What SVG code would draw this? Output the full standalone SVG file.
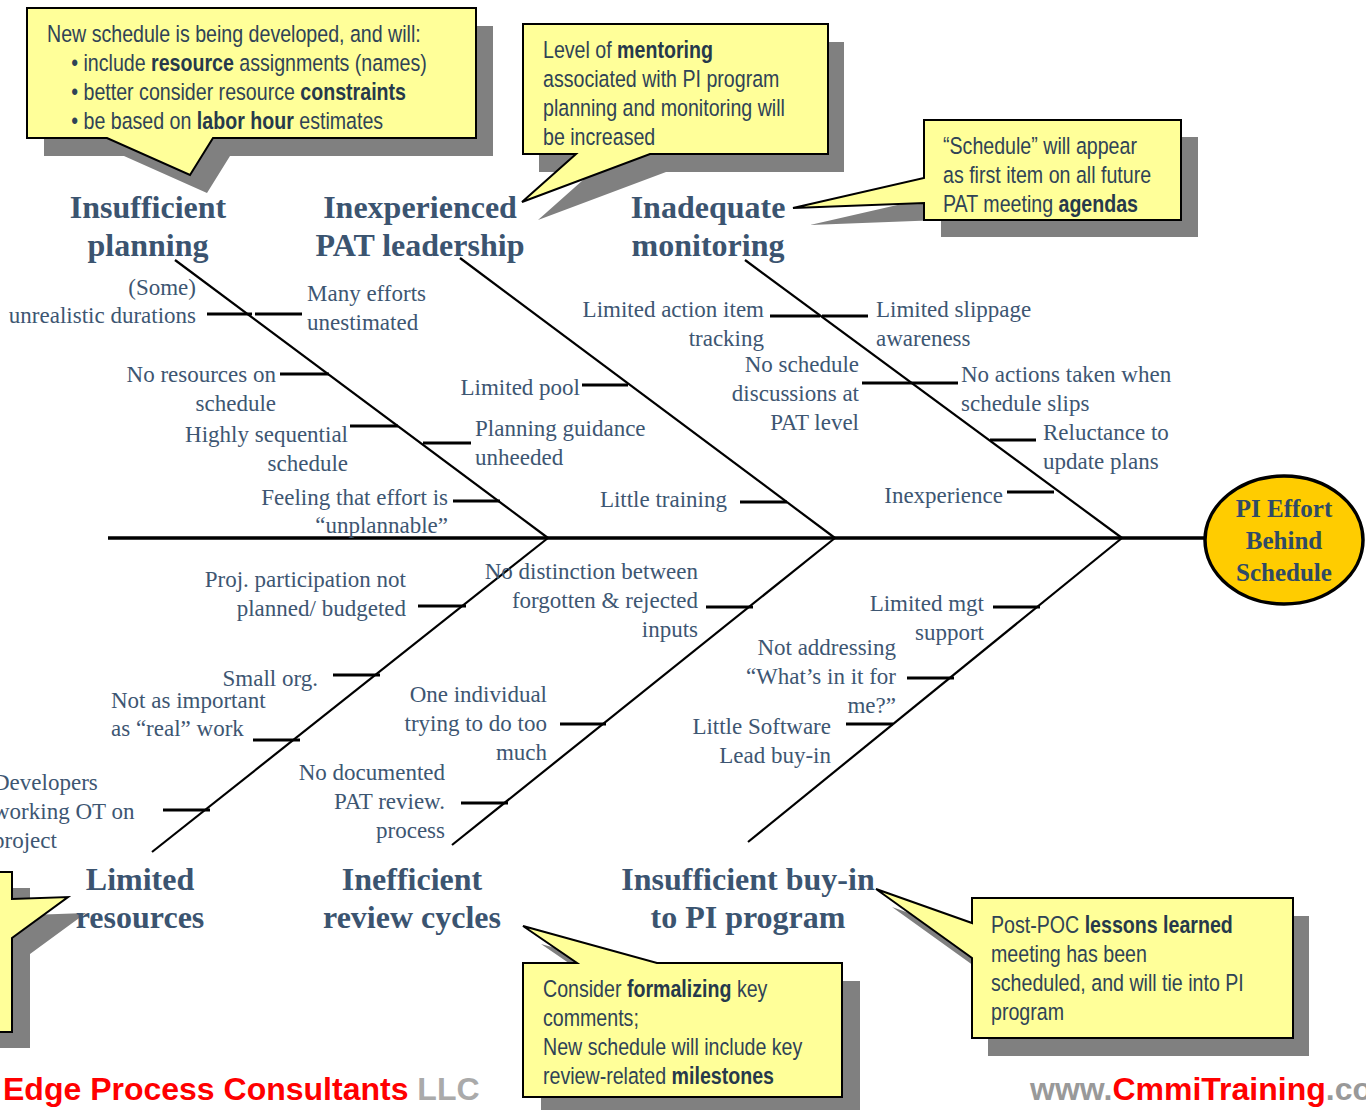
<svg xmlns="http://www.w3.org/2000/svg" width="1366" height="1110" viewBox="0 0 1366 1110">
<style>
.lbl{font-family:"Liberation Serif",serif;font-size:23px;fill:#3D5672}
.r{text-anchor:end}
.cat{font-family:"Liberation Serif",serif;font-weight:bold;font-size:32px;fill:#3B5470;text-anchor:middle}
.hd{font-family:"Liberation Serif",serif;font-weight:bold;font-size:25px;fill:#2F4A66;text-anchor:middle}
.co{font-family:"Liberation Sans",sans-serif;font-size:23.5px;fill:#2F4356}
.b{font-weight:bold;fill:#26394B}
.bubble{fill:#FFFF99;stroke:#000;stroke-width:2;stroke-linejoin:miter}
.shadow{fill:#808080}
.bone{stroke:#000;stroke-width:2.2;fill:none}
.tick{stroke:#000;stroke-width:3;fill:none}
.foot{font-family:"Liberation Sans",Arial,sans-serif;font-weight:bold;font-size:32px}
</style>
<rect width="1366" height="1110" fill="#fff"/>

<g id="callout-planning">
<path class="shadow" transform="translate(17,18)" d="M27,8 H476 V138 H213 L190,175 L107,138 H27 Z"/>
<path class="bubble" d="M27,8 H476 V138 H213 L190,175 L107,138 H27 Z"/>
<g transform="translate(47,0) scale(0.835,1)">
<text class="co" x="0" y="42">New schedule is being developed, and will:</text>
<text class="co" x="29" y="71">• include <tspan class="b">resource</tspan> assignments (names)</text>
<text class="co" x="29" y="100">• better consider resource <tspan class="b">constraints</tspan></text>
<text class="co" x="29" y="129">• be based on <tspan class="b">labor hour</tspan> estimates</text>
</g>
</g>

<g id="callout-leadership">
<path class="shadow" transform="translate(16,18)" d="M523,24 H828 V154 H650 L522,202 L576,154 H523 Z"/>
<path class="bubble" d="M523,24 H828 V154 H650 L522,202 L576,154 H523 Z"/>
<g transform="translate(543,0) scale(0.835,1)">
<text class="co" x="0" y="58">Level of <tspan class="b">mentoring</tspan></text>
<text class="co" x="0" y="87">associated with PI program</text>
<text class="co" x="0" y="116">planning and monitoring will</text>
<text class="co" x="0" y="145">be increased</text>
</g>
</g>

<g id="callout-monitoring">
<path class="shadow" transform="translate(17,17)" d="M924,120 H1181 V220 H924 V203 L793,208 L924,178 Z"/>
<path class="bubble" d="M924,120 H1181 V220 H924 V203 L793,208 L924,178 Z"/>
<g transform="translate(943,0) scale(0.835,1)">
<text class="co" x="0" y="154">“Schedule” will appear</text>
<text class="co" x="0" y="183">as first item on all future</text>
<text class="co" x="0" y="212">PAT meeting <tspan class="b">agendas</tspan></text>
</g>
</g>

<g id="callout-resources">
<path class="shadow" transform="translate(18,16)" d="M-300,872 H12 V899 L68,897 L12,938 V1032 H-300 Z"/>
<path class="bubble" d="M-300,872 H12 V899 L68,897 L12,938 V1032 H-300 Z"/>
</g>

<g id="callout-review">
<path class="shadow" transform="translate(18,18)" d="M523,963 H577 L523,926 L657,963 H842 V1097 H523 Z"/>
<path class="bubble" d="M523,963 H577 L523,926 L657,963 H842 V1097 H523 Z"/>
<g transform="translate(543,0) scale(0.835,1)">
<text class="co" x="0" y="997">Consider <tspan class="b">formalizing</tspan> key</text>
<text class="co" x="0" y="1026">comments;</text>
<text class="co" x="0" y="1055">New schedule will include key</text>
<text class="co" x="0" y="1084">review-related <tspan class="b">milestones</tspan></text>
</g>
</g>

<g id="callout-buyin">
<path class="shadow" transform="translate(16,18)" d="M972,898 H1293 V1038 H972 V958 L876,889 L972,923 Z"/>
<path class="bubble" d="M972,898 H1293 V1038 H972 V958 L876,889 L972,923 Z"/>
<g transform="translate(991,0) scale(0.835,1)">
<text class="co" x="0" y="933">Post-POC <tspan class="b">lessons learned</tspan></text>
<text class="co" x="0" y="962">meeting has been</text>
<text class="co" x="0" y="991">scheduled, and will tie into PI</text>
<text class="co" x="0" y="1020">program</text>
</g>
</g>

<g id="connectors">
<line x1="108" y1="538" x2="1206" y2="538" stroke="#000" stroke-width="3.5"/>
<line class="bone" x1="175" y1="260" x2="548" y2="538"/>
<line class="bone" x1="460" y1="258" x2="835" y2="538"/>
<line class="bone" x1="745" y1="260" x2="1122" y2="538"/>
<line class="bone" x1="548" y1="538" x2="152" y2="852"/>
<line class="bone" x1="835" y1="538" x2="452" y2="845"/>
<line class="bone" x1="1122" y1="538" x2="748" y2="842"/>
<path class="tick" d="M207,314 H252 M255,314 H302 M280,374 H329 M350,426 H398 M423,443 H471 M453,501 H500"/>
<path class="tick" d="M582,385 H628 M740,502 H787"/>
<path class="tick" d="M770,316 H820 M822,316 H868 M862,383 H912 M912,383 H958 M990,440 H1036 M1007,492 H1054"/>
<path class="tick" d="M418,606 H466 M333,675 H380 M253,740 H300 M163,810 H210"/>
<path class="tick" d="M706,607 H753 M560,724 H606 M461,803 H508"/>
<path class="tick" d="M993,607 H1040 M907,678 H954 M846,724 H893"/>
</g>

<g id="head">
<ellipse cx="1284" cy="540" rx="79" ry="64" fill="#FFCC00" stroke="#000" stroke-width="3.5"/>
<text class="hd" x="1284" y="517">PI Effort</text>
<text class="hd" x="1284" y="549">Behind</text>
<text class="hd" x="1284" y="581">Schedule</text>
</g>

<g id="cat-planning">
<text class="cat" x="148" y="218">Insufficient</text>
<text class="cat" x="148" y="256">planning</text>
</g>
<g id="cat-leadership">
<text class="cat" x="420" y="218">Inexperienced</text>
<text class="cat" x="420" y="256">PAT leadership</text>
</g>
<g id="cat-monitoring">
<text class="cat" x="708" y="218">Inadequate</text>
<text class="cat" x="708" y="256">monitoring</text>
</g>
<g id="cat-resources">
<text class="cat" x="140" y="890">Limited</text>
<text class="cat" x="140" y="928">resources</text>
</g>
<g id="cat-review">
<text class="cat" x="412" y="890">Inefficient</text>
<text class="cat" x="412" y="928">review cycles</text>
</g>
<g id="cat-buyin">
<text class="cat" x="748" y="890">Insufficient buy-in</text>
<text class="cat" x="748" y="928">to PI program</text>
</g>

<g id="causes-planning">
<text class="lbl r" x="196" y="295">(Some)</text>
<text class="lbl r" x="196" y="323">unrealistic durations</text>
<text class="lbl" x="307" y="301">Many efforts</text>
<text class="lbl" x="307" y="330">unestimated</text>
<text class="lbl r" x="276" y="382">No resources on</text>
<text class="lbl r" x="276" y="411">schedule</text>
<text class="lbl r" x="348" y="442">Highly sequential</text>
<text class="lbl r" x="348" y="471">schedule</text>
<text class="lbl r" x="448" y="505">Feeling that effort is</text>
<text class="lbl r" x="448" y="533">“unplannable”</text>
<text class="lbl" x="475" y="436">Planning guidance</text>
<text class="lbl" x="475" y="465">unheeded</text>
</g>

<g id="causes-leadership">
<text class="lbl r" x="580" y="395">Limited pool</text>
<text class="lbl r" x="727" y="507">Little training</text>
</g>

<g id="causes-monitoring">
<text class="lbl r" x="764" y="317">Limited action item</text>
<text class="lbl r" x="764" y="346">tracking</text>
<text class="lbl" x="876" y="317">Limited slippage</text>
<text class="lbl" x="876" y="346">awareness</text>
<text class="lbl r" x="859" y="372">No schedule</text>
<text class="lbl r" x="859" y="401">discussions at</text>
<text class="lbl r" x="859" y="430">PAT level</text>
<text class="lbl" x="961" y="382">No actions taken when</text>
<text class="lbl" x="961" y="411">schedule slips</text>
<text class="lbl" x="1043" y="440">Reluctance to</text>
<text class="lbl" x="1043" y="469">update plans</text>
<text class="lbl r" x="1003" y="503">Inexperience</text>
</g>

<g id="causes-resources">
<text class="lbl r" x="406" y="587">Proj. participation not</text>
<text class="lbl r" x="406" y="616">planned/ budgeted</text>
<text class="lbl r" x="318" y="686">Small org.</text>
<text class="lbl" x="111" y="708">Not as important</text>
<text class="lbl" x="111" y="736">as “real” work</text>
<text class="lbl" x="-7" y="790">Developers</text>
<text class="lbl" x="-7" y="819">working OT on</text>
<text class="lbl" x="-7" y="848">project</text>
</g>

<g id="causes-review">
<text class="lbl r" x="698" y="579">No distinction between</text>
<text class="lbl r" x="698" y="608">forgotten &amp; rejected</text>
<text class="lbl r" x="698" y="637">inputs</text>
<text class="lbl r" x="547" y="702">One individual</text>
<text class="lbl r" x="547" y="731">trying to do too</text>
<text class="lbl r" x="547" y="760">much</text>
<text class="lbl r" x="445" y="780">No documented</text>
<text class="lbl r" x="445" y="809">PAT review.</text>
<text class="lbl r" x="445" y="838">process</text>
</g>

<g id="causes-buyin">
<text class="lbl r" x="984" y="611">Limited mgt</text>
<text class="lbl r" x="984" y="640">support</text>
<text class="lbl r" x="896" y="655">Not addressing</text>
<text class="lbl r" x="896" y="684">“What’s in it for</text>
<text class="lbl r" x="896" y="713">me?”</text>
<text class="lbl r" x="831" y="734">Little Software</text>
<text class="lbl r" x="831" y="763">Lead buy-in</text>
</g>

<g id="footer">
<text class="foot" x="3" y="1100"><tspan fill="#FF0000">Edge Process Consultants</tspan> <tspan fill="#AAAAAA">LLC</tspan></text>
<text class="foot" x="1030" y="1100"><tspan fill="#999999">www.</tspan><tspan fill="#FF0000">CmmiTraining</tspan><tspan fill="#999999">.com</tspan></text>
</g>
</svg>
